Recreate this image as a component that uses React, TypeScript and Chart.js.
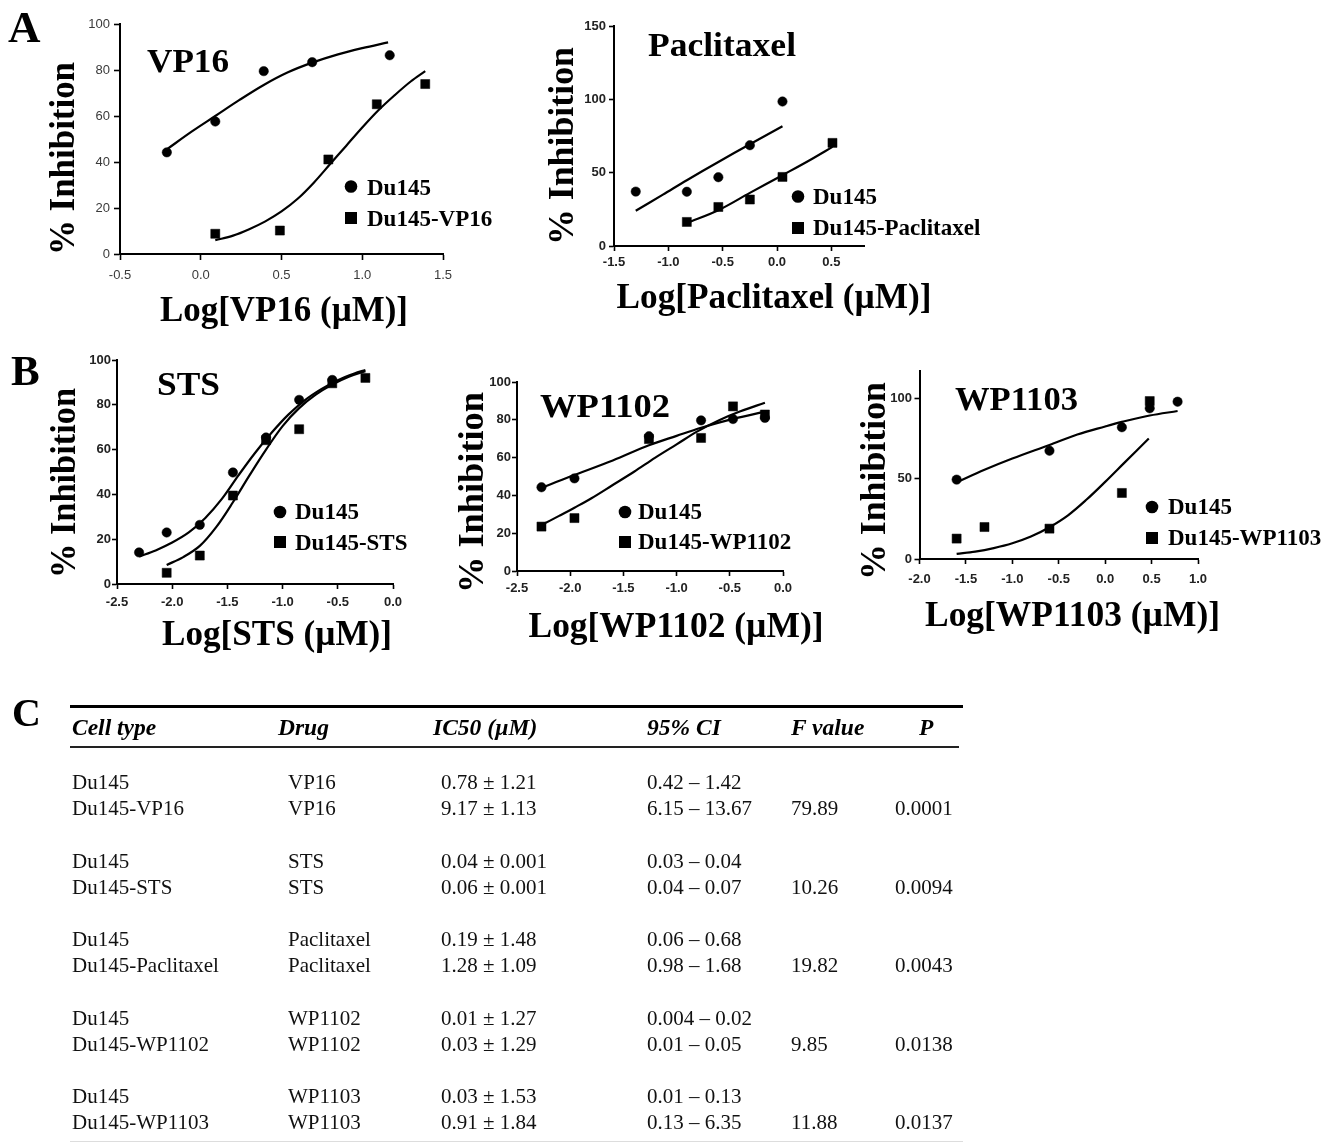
import React, { useEffect, useRef } from "react";
import { Chart, registerables } from "chart.js";
Chart.register(...registerables);

const W = 1337;
const H = 1143;

// ---------- Panel A: VP16 ----------
const vp16DuX = [-0.21, 0.09, 0.39, 0.69, 1.17];
const vp16DuY = [44.2, 57.6, 79.5, 83.4, 86.4];
const vp16ResX = [0.09, 0.49, 0.79, 1.09, 1.39];
const vp16ResY = [8.8, 10.2, 41.1, 65.1, 73.9];
const vp16DuFitX = [-0.21, -0.05, 0.09, 0.24, 0.39, 0.54, 0.69, 0.85, 1.0, 1.16];
const vp16DuFitY = [45.5, 53.5, 60, 67, 73.5, 79, 83.2, 86.8, 89.5, 92];
const vp16ResFitX = [0.09, 0.2, 0.3, 0.4, 0.5, 0.6, 0.7, 0.8, 0.9, 1.0, 1.1, 1.2, 1.3, 1.39];
const vp16ResFitY = [6, 8, 10.8, 14.2, 18.5, 24, 31, 39, 47, 55, 62.5, 69, 75, 79.5];

// ---------- Panel A: Paclitaxel ----------
const pacDuX = [-1.3, -0.83, -0.54, -0.25, 0.05];
const pacDuY = [37.1, 37, 46.9, 68.7, 98.5];
const pacResX = [-0.83, -0.54, -0.25, 0.05, 0.51];
const pacResY = [16.4, 26.6, 31.7, 47.1, 70.3];
const pacDuFitX = [-1.3, -1.05, -0.83, -0.54, -0.25, 0.05];
const pacDuFitY = [24, 35, 44.8, 57.3, 69.4, 81.7];
const pacResFitX = [-0.83, -0.54, -0.25, 0.05, 0.3, 0.51];
const pacResFitY = [15.7, 24.4, 36.2, 48.3, 58.5, 67.6];

// ---------- Panel B: STS ----------
const stsDuX = [-2.3, -2.05, -1.75, -1.45, -1.15, -0.85, -0.55];
const stsDuY = [14.1, 23, 26.4, 49.8, 65.4, 82.2, 91.1];
const stsResX = [-2.05, -1.75, -1.45, -1.15, -0.85, -0.55, -0.25];
const stsResY = [5, 12.7, 39.5, 64.2, 69.1, 89.6, 92];
const stsDuFitX = [-2.3, -2.15, -2.0, -1.85, -1.7, -1.55, -1.4, -1.25, -1.1, -0.95, -0.8, -0.65, -0.5, -0.35, -0.25];
const stsDuFitY = [12.3, 15, 18.5, 23, 29.5, 38, 48.5, 58.5, 67.5, 75.5, 82, 87, 91, 94, 95.5];
const stsResFitX = [-2.05, -1.9, -1.75, -1.6, -1.45, -1.3, -1.15, -1.0, -0.85, -0.7, -0.55, -0.4, -0.25];
const stsResFitY = [8.5, 12, 17, 25.5, 36.5, 48.5, 60, 70.5, 78.5, 84.5, 89, 92.5, 95];

// ---------- Panel B: WP1102 ----------
const wp2DuX = [-2.27, -1.96, -1.26, -0.77, -0.47, -0.17];
const wp2DuY = [44.3, 49, 71.3, 79.7, 80.4, 81];
const wp2ResX = [-2.27, -1.96, -1.26, -0.77, -0.47, -0.17];
const wp2ResY = [23.5, 28, 69.8, 70.4, 87.1, 82.8];
const wp2DuFitX = [-2.27, -2.0, -1.6, -1.26, -1.0, -0.77, -0.47, -0.17];
const wp2DuFitY = [44, 50, 58.5, 66.5, 71.5, 75.8, 80.5, 84.3];
const wp2ResFitX = [-2.27, -2.1, -1.96, -1.8, -1.6, -1.4, -1.2, -1.0, -0.8, -0.6, -0.4, -0.17];
const wp2ResFitY = [24.3, 29.3, 33.5, 38.5, 45.5, 52.5, 60, 67, 74, 79.8, 84.5, 89];

// ---------- Panel B: WP1103 ----------
const wp3DuX = [-1.6, -0.6, 0.18, 0.48, 0.78];
const wp3DuY = [49.4, 67.4, 82, 93.8, 97.9];
const wp3ResX = [-1.6, -1.3, -0.6, 0.18, 0.48];
const wp3ResY = [12.7, 19.9, 18.9, 41.1, 98.3];
const wp3DuFitX = [-1.6, -1.3, -1.0, -0.6, -0.3, 0.0, 0.18, 0.48, 0.78];
const wp3DuFitY = [47.7, 55.5, 62.5, 71, 77.5, 82.5, 85.3, 89.3, 92.1];
const wp3ResFitX = [-1.6, -1.4, -1.2, -1.0, -0.8, -0.6, -0.4, -0.2, 0.0, 0.2, 0.47];
const wp3ResFitY = [3.2, 4.6, 6.8, 9.8, 14, 19.8, 27.2, 37, 48, 59.5, 75];

// ---------- Panel C: table ----------
const tableHeaders = ["Cell type", "Drug", "IC50 (\u00b5M)", "95% CI", "F value", "P"];
const cellTypes = ["Du145", "Du145-VP16", "Du145", "Du145-STS", "Du145", "Du145-Paclitaxel", "Du145", "Du145-WP1102", "Du145", "Du145-WP1103"];
const drugs = ["VP16", "VP16", "STS", "STS", "Paclitaxel", "Paclitaxel", "WP1102", "WP1102", "WP1103", "WP1103"];
const ic50s = ["0.78 \u00b1 1.21", "9.17 \u00b1 1.13", "0.04 \u00b1 0.001", "0.06 \u00b1 0.001", "0.19 \u00b1 1.48", "1.28 \u00b1 1.09", "0.01 \u00b1 1.27", "0.03 \u00b1 1.29", "0.03 \u00b1 1.53", "0.91 \u00b1 1.84"];
const cis = ["0.42 \u2013 1.42", "6.15 \u2013 13.67", "0.03 \u2013 0.04", "0.04 \u2013 0.07", "0.06 \u2013 0.68", "0.98 \u2013 1.68", "0.004 \u2013 0.02", "0.01 \u2013 0.05", "0.01 \u2013 0.13", "0.13 \u2013 6.35"];
const fValues = ["", "79.89", "", "10.26", "", "19.82", "", "9.85", "", "11.88"];
const pValues = ["", "0.0001", "", "0.0094", "", "0.0043", "", "0.0138", "", "0.0137"];

const SERIF = '"Liberation Serif", "Times New Roman", serif';
const SANS = '"Liberation Sans", Arial, sans-serif';

type Txt = { text: string; x: number; y: number; font: string; w?: number; align?: CanvasTextAlign; rotate?: boolean };
type LegendItem = { ds: number; cx: number; cy: number; tx: number; ty: number };
type PanelCfg = {
  area: { l: number; r: number; t: number; b: number };
  xMin: number; xMax: number; xStep: number;
  yMax: number; yStep: number;
  tickWeight: string; tickSize: number; tickColor: string;
  xPad: number; yPad: number; tickLen: number;
  texts: Txt[];
  legend: LegendItem[];
  datasets: any[];
};

function pts(xs: number[], ys: number[]) {
  return xs.map((x, i) => ({ x, y: ys[i] }));
}
function markerSet(label: string, xs: number[], ys: number[], style: string) {
  return {
    label,
    data: pts(xs, ys),
    showLine: false,
    pointStyle: style,
    pointRadius: style === "rect" ? 6.4 : 4.7,
    pointBackgroundColor: "#000",
    pointBorderColor: "#000",
    pointBorderWidth: 0.5,
    clip: false,
    order: 1,
  };
}
function fitSet(xs: number[], ys: number[]) {
  return {
    label: "fit",
    data: pts(xs, ys),
    showLine: true,
    pointRadius: 0,
    borderColor: "#000",
    borderWidth: 2.2,
    tension: 0.35,
    fill: false,
    clip: false,
    order: 2,
  };
}

const fmt1 = (v: number) => (Math.abs(v) < 1e-9 ? "0.0" : v.toFixed(1));

function makePlugin(cfg: PanelCfg) {
  return {
    id: "panelText",
    afterDraw(chart: any) {
      const ctx: CanvasRenderingContext2D = chart.ctx;
      ctx.save();
      ctx.fillStyle = "#000";
      for (const t of cfg.texts) {
        ctx.save();
        ctx.font = t.font;
        ctx.textBaseline = "alphabetic";
        ctx.textAlign = t.align || "left";
        const m = ctx.measureText(t.text).width;
        const sx = t.w ? t.w / m : 1;
        ctx.translate(t.x, t.y);
        if (t.rotate) ctx.rotate(-Math.PI / 2);
        ctx.scale(sx, 1);
        ctx.fillText(t.text, 0, 0);
        ctx.restore();
      }
      for (const li of cfg.legend) {
        const ds = chart.data.datasets[li.ds];
        ctx.beginPath();
        if (ds.pointStyle === "rect") {
          ctx.rect(li.cx - 6, li.cy - 6, 12, 12);
        } else {
          ctx.arc(li.cx, li.cy, 6.3, 0, Math.PI * 2);
        }
        ctx.fill();
        ctx.font = `bold 23px ${SERIF}`;
        ctx.textAlign = "left";
        ctx.textBaseline = "alphabetic";
        ctx.fillText(ds.label, li.tx, li.ty);
      }
      ctx.restore();
    },
  };
}

function Panel({ cfg }: { cfg: PanelCfg }) {
  const ref = useRef<HTMLCanvasElement>(null);
  useEffect(() => {
    const YW = 60;
    const XH = 40;
    const { l, r, t, b } = cfg.area;
    const tickFont = { family: SANS, size: cfg.tickSize, weight: cfg.tickWeight as any };
    const chart = new Chart(ref.current as HTMLCanvasElement, {
      type: "scatter",
      data: { datasets: cfg.datasets },
      options: {
        animation: false,
        responsive: false,
        devicePixelRatio: 1,
        events: [],
        layout: { padding: { left: l - YW, top: t, right: W - r, bottom: H - b - XH } },
        plugins: { legend: { display: false }, tooltip: { enabled: false }, title: { display: false } },
        scales: {
          x: {
            type: "linear",
            min: cfg.xMin,
            max: cfg.xMax,
            afterFit: (s: any) => {
              s.height = XH;
            },
            border: { display: true, color: "#000", width: 2 },
            grid: { display: true, drawOnChartArea: false, drawTicks: true, tickLength: cfg.tickLen, tickWidth: 1.6, tickColor: "#000", color: "#000" },
            ticks: {
              stepSize: cfg.xStep,
              includeBounds: false,
              padding: cfg.xPad,
              color: cfg.tickColor,
              font: tickFont,
              maxRotation: 0,
              autoSkip: false,
              callback: (v: any) => fmt1(Number(v)),
            },
          },
          y: {
            type: "linear",
            min: 0,
            max: cfg.yMax,
            afterFit: (s: any) => {
              s.width = YW;
            },
            border: { display: true, color: "#000", width: 2 },
            grid: { display: true, drawOnChartArea: false, drawTicks: true, tickLength: cfg.tickLen, tickWidth: 1.6, tickColor: "#000", color: "#000" },
            ticks: {
              stepSize: cfg.yStep,
              includeBounds: false,
              padding: cfg.yPad,
              color: cfg.tickColor,
              font: tickFont,
              autoSkip: false,
              callback: (v: any) => String(Math.round(Number(v))),
            },
          },
        },
      } as any,
      plugins: [makePlugin(cfg) as any],
    });
    return () => chart.destroy();
  }, []);
  return (
    <canvas
      ref={ref}
      width={W}
      height={H}
      style={{ position: "absolute", left: 0, top: 0, width: W, height: H, pointerEvents: "none" }}
    />
  );
}

const titleFont = `bold 34px ${SERIF}`;
const axisFont = `bold 35px ${SERIF}`;
const inhib = "% Inhibition";

const panels: PanelCfg[] = [
  {
    area: { l: 120, r: 443, t: 24, b: 254 },
    xMin: -0.5, xMax: 1.5, xStep: 0.5, yMax: 100, yStep: 20,
    tickWeight: "normal", tickSize: 13, tickColor: "#3a3a3a", xPad: 8, yPad: 4, tickLen: 6,
    texts: [
      { text: "VP16", x: 147, y: 72, font: titleFont, w: 82 },
      { text: inhib, x: 74, y: 158.5, font: axisFont, w: 193, align: "center", rotate: true },
      { text: "Log[VP16 (\u00b5M)]", x: 284, y: 321, font: axisFont, w: 248, align: "center" },
    ],
    legend: [
      { ds: 0, cx: 351, cy: 186.5, tx: 367, ty: 195 },
      { ds: 1, cx: 351, cy: 218, tx: 367, ty: 226 },
    ],
    datasets: [
      markerSet("Du145", vp16DuX, vp16DuY, "circle"),
      markerSet("Du145-VP16", vp16ResX, vp16ResY, "rect"),
      fitSet(vp16DuFitX, vp16DuFitY),
      fitSet(vp16ResFitX, vp16ResFitY),
    ],
  },
  {
    area: { l: 614, r: 864, t: 26, b: 246 },
    xMin: -1.5, xMax: 0.8, xStep: 0.5, yMax: 150, yStep: 50,
    tickWeight: "bold", tickSize: 13, tickColor: "#222", xPad: 4, yPad: 3, tickLen: 5,
    texts: [
      { text: "Paclitaxel", x: 648, y: 56, font: titleFont, w: 148 },
      { text: inhib, x: 573, y: 146, font: axisFont, w: 198, align: "center", rotate: true },
      { text: "Log[Paclitaxel (\u00b5M)]", x: 774, y: 308, font: axisFont, w: 315, align: "center" },
    ],
    legend: [
      { ds: 0, cx: 798, cy: 196.5, tx: 813, ty: 203.5 },
      { ds: 1, cx: 798, cy: 228, tx: 813, ty: 234.5 },
    ],
    datasets: [
      markerSet("Du145", pacDuX, pacDuY, "circle"),
      markerSet("Du145-Paclitaxel", pacResX, pacResY, "rect"),
      fitSet(pacDuFitX, pacDuFitY),
      fitSet(pacResFitX, pacResFitY),
    ],
  },
  {
    area: { l: 117, r: 393, t: 360, b: 584 },
    xMin: -2.5, xMax: 0, xStep: 0.5, yMax: 100, yStep: 20,
    tickWeight: "bold", tickSize: 13, tickColor: "#222", xPad: 6, yPad: 1, tickLen: 5,
    texts: [
      { text: "STS", x: 157, y: 395, font: titleFont, w: 63 },
      { text: inhib, x: 75, y: 483, font: axisFont, w: 190, align: "center", rotate: true },
      { text: "Log[STS (\u00b5M)]", x: 277, y: 645, font: axisFont, w: 230, align: "center" },
    ],
    legend: [
      { ds: 0, cx: 280, cy: 512, tx: 295, ty: 518.5 },
      { ds: 1, cx: 280, cy: 542, tx: 295, ty: 550 },
    ],
    datasets: [
      markerSet("Du145", stsDuX, stsDuY, "circle"),
      markerSet("Du145-STS", stsResX, stsResY, "rect"),
      fitSet(stsDuFitX, stsDuFitY),
      fitSet(stsResFitX, stsResFitY),
    ],
  },
  {
    area: { l: 517, r: 783, t: 382, b: 571 },
    xMin: -2.5, xMax: 0, xStep: 0.5, yMax: 100, yStep: 20,
    tickWeight: "bold", tickSize: 13, tickColor: "#222", xPad: 5, yPad: 1, tickLen: 5,
    texts: [
      { text: "WP1102", x: 540, y: 417, font: titleFont, w: 130 },
      { text: inhib, x: 483, y: 492.5, font: axisFont, w: 201, align: "center", rotate: true },
      { text: "Log[WP1102 (\u00b5M)]", x: 676, y: 637, font: axisFont, w: 295, align: "center" },
    ],
    legend: [
      { ds: 0, cx: 625, cy: 512, tx: 638, ty: 518.5 },
      { ds: 1, cx: 625, cy: 542, tx: 638, ty: 548.5 },
    ],
    datasets: [
      markerSet("Du145", wp2DuX, wp2DuY, "circle"),
      markerSet("Du145-WP1102", wp2ResX, wp2ResY, "rect"),
      fitSet(wp2DuFitX, wp2DuFitY),
      fitSet(wp2ResFitX, wp2ResFitY),
    ],
  },
  {
    area: { l: 919.5, r: 1198, t: 371, b: 559 },
    xMin: -2, xMax: 1, xStep: 0.5, yMax: 117, yStep: 50,
    tickWeight: "bold", tickSize: 13, tickColor: "#222", xPad: 8, yPad: 2.5, tickLen: 5,
    texts: [
      { text: "WP1103", x: 955, y: 410, font: titleFont, w: 123 },
      { text: inhib, x: 885, y: 481, font: axisFont, w: 198, align: "center", rotate: true },
      { text: "Log[WP1103 (\u00b5M)]", x: 1072.5, y: 626, font: axisFont, w: 295, align: "center" },
    ],
    legend: [
      { ds: 0, cx: 1152, cy: 507, tx: 1168, ty: 513.5 },
      { ds: 1, cx: 1152, cy: 538, tx: 1168, ty: 545 },
    ],
    datasets: [
      markerSet("Du145", wp3DuX, wp3DuY, "circle"),
      markerSet("Du145-WP1103", wp3ResX, wp3ResY, "rect"),
      fitSet(wp3DuFitX, wp3DuFitY),
      fitSet(wp3ResFitX, wp3ResFitY),
    ],
  },
];

function Txt({ x, y, size, style, children }: { x: number; y: number; size: number; style?: any; children: any }) {
  return (
    <div
      style={{
        position: "absolute",
        left: x,
        top: y - 0.8375 * size,
        fontSize: size,
        lineHeight: `${size}px`,
        fontFamily: SERIF,
        whiteSpace: "nowrap",
        color: "#111",
        ...style,
      }}
    >
      {children}
    </div>
  );
}

const headerX = [72, 278, 433, 647, 791, 919];
const colX = [72, 288, 441, 647, 791, 895];
const rowBaseline = (i: number) => 790 + Math.floor(i / 2) * 78.5 + (i % 2) * 25.8;

export default function App() {
  const cols = [cellTypes, drugs, ic50s, cis, fValues, pValues];
  return (
    <div style={{ position: "absolute", left: 0, top: 0, width: W, height: H, background: "#fff", overflow: "hidden" }}>
      {panels.map((p, i) => (
        <Panel key={i} cfg={p} />
      ))}
      <Txt x={8} y={43} size={45} style={{ fontWeight: "bold", color: "#000" }}>A</Txt>
      <Txt x={11} y={385} size={43} style={{ fontWeight: "bold", color: "#000" }}>B</Txt>
      <Txt x={12} y={726} size={40} style={{ fontWeight: "bold", color: "#000" }}>C</Txt>
      <div style={{ position: "absolute", left: 70, top: 705, width: 893, height: 3, background: "#000" }} />
      <div style={{ position: "absolute", left: 70, top: 746, width: 889, height: 2, background: "#222" }} />
      <div style={{ position: "absolute", left: 70, top: 1141, width: 893, height: 1, background: "#ddd" }} />
      {tableHeaders.map((h, i) => (
        <Txt key={"h" + i} x={headerX[i]} y={735.5} size={23.5} style={{ fontWeight: 700, fontStyle: "italic", color: "#000" }}>
          {h}
        </Txt>
      ))}
      {cols.map((col, c) =>
        col.map((v, r) =>
          v ? (
            <Txt key={c + "-" + r} x={colX[c]} y={rowBaseline(r)} size={21}>
              {v}
            </Txt>
          ) : null
        )
      )}
    </div>
  );
}
